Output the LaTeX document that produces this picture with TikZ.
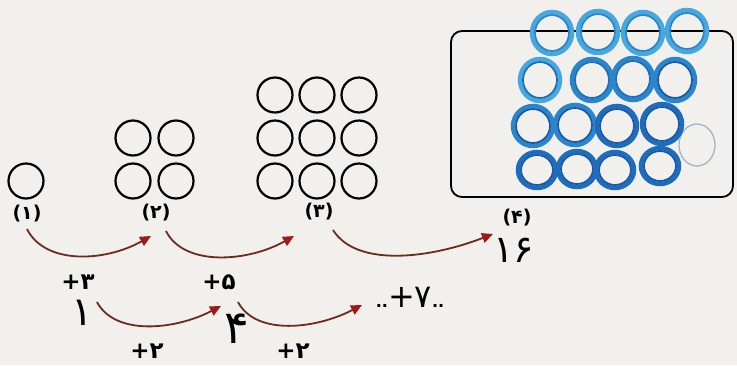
\documentclass[tikz,border=0pt]{standalone}
\usepackage{fontspec}
\newfontfamily\fa{DejaVu Sans}
\newfontfamily\fab{DejaVu Sans Bold}
\usetikzlibrary{arrows.meta}
\definecolor{paper}{HTML}{F2F0EC}
\definecolor{arrowc}{HTML}{6E2A20}
\definecolor{tipc}{HTML}{A01818}
\definecolor{blueA}{HTML}{46A8DE}
\definecolor{blueB}{HTML}{2A86CC}
\definecolor{blueC}{HTML}{1E6CBC}
\definecolor{blueD}{HTML}{1A58A8}
\definecolor{faint}{HTML}{A3B4C4}
\begin{document}
\begin{tikzpicture}[x=1pt,y=-1pt,
  ring/.style={circle,draw=black,line width=2.2pt,minimum size=35pt,inner sep=0pt},
  lab/.style={font=\fab\fontsize{19}{19}\selectfont,inner sep=0pt},
  op/.style={font=\fab\fontsize{23}{23}\selectfont,inner sep=0pt},
  hand/.style={font=\fa\fontsize{40}{40}\selectfont,inner sep=0pt},
  jump/.style={draw=arrowc,line width=1.8pt,-{Triangle[length=11pt,width=10pt,fill=tipc,color=tipc]}},
  blue/.style={line width=4.5pt},
  bluein/.style={line width=1.8pt}]
\useasboundingbox (0,0) rectangle (737,365);
\fill[paper] (0,0) rectangle (737,365);

% pattern 1
\node[ring] (c11) at (26,181) {};
% pattern 2
\foreach \i/\x in {1/133,2/176}{
  \foreach \j/\y in {1/138,2/181}{
    \node[ring] (c2\i\j) at (\x,\y) {};
  }}
% pattern 3
\foreach \i/\x in {1/275,2/317,3/359}{
  \foreach \j/\y in {1/95,2/138,3/181}{
    \node[ring] (c3\i\j) at (\x,\y) {};
  }}

% box of pattern 4
\draw[line width=1.8pt,rounded corners=11pt] (451,31) rectangle (733,197);
\draw[faint,line width=1.3pt] (697,145) ellipse (18pt and 21pt);
% blue rings
\foreach \x/\y/\c/\d in {552/33/blueA/blueB,598/32/blueA/blueB,643/33/blueA/blueB,687/31/blueA/blueB}{
  \draw[blue,\c] (\x,\y) ellipse (20pt and 21pt);
  \draw[bluein,\d] (\x,\y) ellipse (17pt and 18pt);}
\foreach \x/\y/\c/\d in {540/80/blueA/blueC,592/80/blueB/blueC,633/79/blueB/blueC,675/80/blueB/blueD}{
  \draw[blue,\c] (\x,\y) ellipse (20pt and 21pt);
  \draw[bluein,\d] (\x,\y) ellipse (17pt and 18pt);}
\foreach \x/\y/\c/\d in {533/126/blueB/blueD,575/125/blueB/blueD,617/126/blueC/blueD,662/124/blueC/blueD}{
  \draw[blue,\c] (\x,\y) ellipse (20pt and 20pt);
  \draw[bluein,\d] (\x,\y) ellipse (17pt and 17pt);}
\foreach \x/\y/\c/\d in {537/170/blueC/blueD,577/169/blueC/blueD,615/170/blueC/blueD,660/166/blueC/blueD}{
  \draw[blue,\c] (\x,\y) ellipse (19pt and 18pt);
  \draw[bluein,\d] (\x,\y) ellipse (16pt and 15pt);}

% labels
\node[lab] (l1) at (27,214) {(۱)};
\node[lab] (l2) at (156,213) {(۲)};
\node[lab] (l3) at (319,212) {(۳)};
\node[lab] (l4) at (517,218) {(۴)};

% upper arrows
\coordinate (a1s) at (27,229);
\coordinate (a1e) at (151,236);
\coordinate (a2s) at (166,231);
\coordinate (a2e) at (294,236);
\coordinate (a3s) at (333,230);
\coordinate (a3e) at (493,234);
\draw[jump] (a1s) .. controls +(18,36) and +(-46,26) .. (a1e);
\draw[jump] (a2s) .. controls +(18,36) and +(-46,26) .. (a2e);
\draw[jump] (a3s) .. controls +(24,38) and +(-62,24) .. (a3e);

\node[op] (o1) at (78,282) {+۳};
\node[op] (o2) at (219,282) {+۵};
\node[hand,font=\fa\fontsize{38}{38}\selectfont] (h16) at (514,250) {۱۶};

% lower row
\node[hand] (h1) at (82,313) {۱};
\node[hand,font=\fa\fontsize{46}{46}\selectfont] (h4) at (237,329) {۴};
\node[inner sep=0pt,font=\fab\fontsize{16}{16}\selectfont] (h7) at (410,297)
  {..{\fa\fontsize{32}{32}\selectfont +۷}..};
\coordinate (b1s) at (97,302);
\coordinate (b1e) at (221,306);
\coordinate (b2s) at (238,302);
\coordinate (b2e) at (362,305);
\draw[jump] (b1s) .. controls +(18,34) and +(-46,24) .. (b1e);
\draw[jump] (b2s) .. controls +(18,34) and +(-46,24) .. (b2e);
\node[op] (o3) at (147,351) {+۲};
\node[op] (o4) at (293,351) {+۲};
\end{tikzpicture}
\end{document}
